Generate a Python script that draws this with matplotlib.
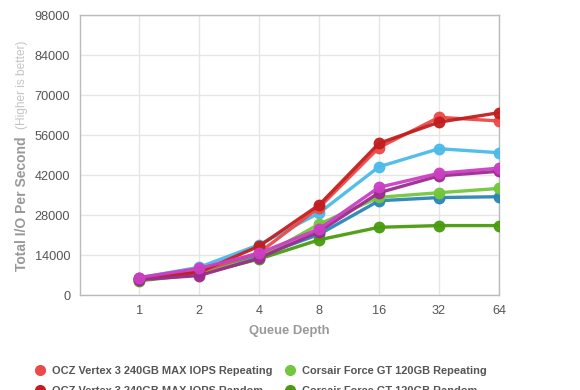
import matplotlib
matplotlib.use('Agg')
import matplotlib.pyplot as plt
from matplotlib.lines import Line2D

plt.rcParams['font.family'] = ['Liberation Sans', 'DejaVu Sans']

queue_depth = ['1', '2', '4', '8', '16', '32', '64']
y_ticks = [0, 14000, 28000, 42000, 56000, 70000, 84000, 98000]

ocz_repeating = [5800, 8200, 14800, 30600, 51600, 62200, 60900]
ocz_random = [5600, 8000, 17100, 31500, 53100, 60500, 63800]
series_blue = [6000, 9700, 17600, 28700, 44900, 51200, 49800]
series_teal = [5500, 7600, 13600, 21200, 33000, 34100, 34400]
corsair_repeating = [5300, 7500, 13000, 24800, 34200, 35800, 37300]
corsair_random = [5000, 7200, 12600, 19300, 23700, 24300, 24300]
series_purple = [5400, 6800, 12900, 22200, 35800, 41700, 43300]
series_magenta = [6100, 9300, 14600, 23100, 37700, 42600, 44400]

# order = draw order (last on top)
series = [
    (series_blue, '#4bbbea'),
    (series_teal, '#2a86b4'),
    (corsair_random, '#4a9c0e'),
    (corsair_repeating, '#74c63c'),
    (ocz_repeating, '#ea4a4a'),
    (ocz_random, '#c11f1f'),
    (series_purple, '#9d2b91'),
    (series_magenta, '#cb3fc3'),
]

fig = plt.figure(figsize=(5.8, 3.9), dpi=100)
ax = fig.add_axes([80 / 580, 95 / 390, 419 / 580, 280 / 390])

x = list(range(len(queue_depth)))
for vals, col in series:
    ax.plot(x, vals, color=col, lw=2.4, marker='o', ms=7.5, alpha=0.95,
            solid_capstyle='round', zorder=3)

ax.set_xlim(-0.985, 6)
ax.set_ylim(0, 98000)
ax.set_xticks(x)
ax.set_xticklabels(queue_depth)
ax.set_yticks(y_ticks)
ax.set_yticklabels([str(v) for v in y_ticks])
ax.tick_params(length=0, labelsize=9.2, labelcolor='#555555')
ax.tick_params(axis='y', pad=7)
ax.tick_params(axis='x', pad=7)
ax.grid(True, color='#e6e6e6', lw=1)
ax.set_axisbelow(True)
for s in ax.spines.values():
    s.set_color('#bbbbbb')
    s.set_linewidth(1)

ax.set_xlabel('Queue Depth', fontsize=9.4, color='#999999', fontweight='bold', labelpad=6)

t1 = fig.text(22 / 580, (390 - 271) / 390, 'Total I/O Per Second', rotation=90,
              ha='center', va='bottom', fontsize=10, color='#999999', fontweight='bold')
ax.annotate('(Higher is better)', xy=(0.5, 1), xycoords=t1, xytext=(0, 5),
            textcoords='offset points', rotation=90, ha='center', va='bottom',
            fontsize=8.6, color='#c4c4c4')

handles = [
    Line2D([], [], ls='none', marker='o', ms=7, color='#ea4a4a'),
    Line2D([], [], ls='none', marker='o', ms=7, color='#c11f1f'),
    Line2D([], [], ls='none', marker='o', ms=7, color='#74c63c'),
    Line2D([], [], ls='none', marker='o', ms=7, color='#4a9c0e'),
]
labels = ['OCZ Vertex 3 240GB MAX IOPS Repeating', 'OCZ Vertex 3 240GB MAX IOPS Random',
          'Corsair Force GT 120GB Repeating', 'Corsair Force GT 120GB Random']
leg = fig.legend(handles, labels, ncol=2, frameon=False, loc='upper left',
                 bbox_to_anchor=(24 / 580, (390 - 356) / 390), fontsize=7.9,
                 handletextpad=0.45, columnspacing=1.0, labelspacing=0.9,
                 handlelength=1.2)
for t in leg.get_texts():
    t.set_color('#555555')
    t.set_fontweight('bold')

fig.savefig('out.png', dpi=100)
